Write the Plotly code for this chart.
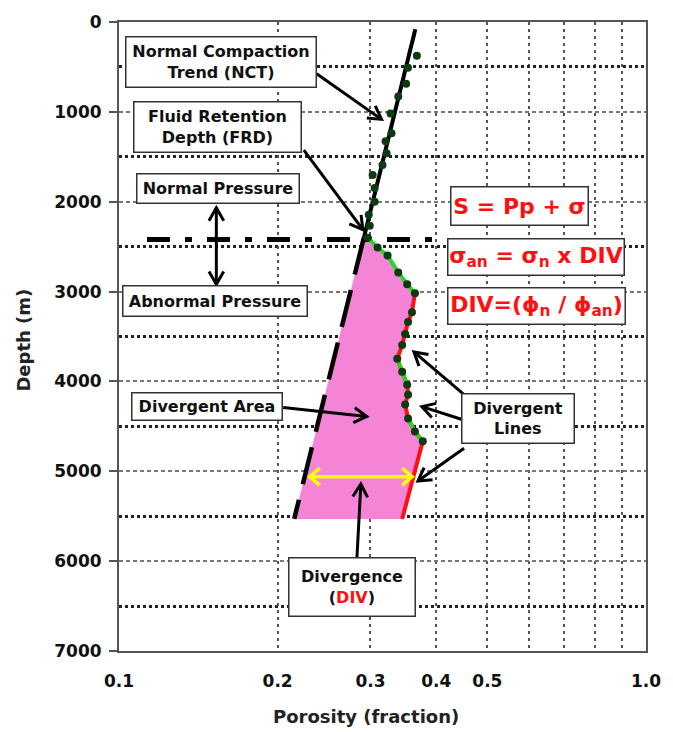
import math
import plotly.graph_objects as go

# ---------------- data ----------------
# observed porosity points (depth m, porosity fraction)
pt_depth = [376, 509, 686, 829, 1017, 1238, 1327, 1460, 1592, 1703, 1847, 2001,
            2145, 2267, 2400, 2510, 2599, 2787, 2919, 3019, 3229, 3340, 3472,
            3594, 3749, 3893, 4036, 4147, 4257, 4412, 4556, 4667]
pt_poro = [0.3675, 0.3535, 0.3506, 0.3388, 0.3275, 0.3289, 0.3205, 0.3219,
           0.3162, 0.3029, 0.3055, 0.3055, 0.2978, 0.2991, 0.2965, 0.3095,
           0.3233, 0.3388, 0.3522, 0.3644, 0.3597, 0.3536, 0.3491, 0.3446,
           0.3373, 0.3446, 0.3522, 0.3536, 0.3491, 0.3536, 0.3644, 0.3771]
# end of divergent (red) line
end_depth = 5530
end_poro = 0.3446
# normal compaction trend
nct_depth = [80, 2400, 5530]
nct_poro = [0.365, 0.2915, 0.215]
# fluid retention depth line
frd_depth = 2420
frd_poro = [0.113, 0.397]
# divergence (yellow) arrow
div_depth = 5060
div_poro = [0.230, 0.360]
# axis ticks
x_tickvals = [0.1, 0.2, 0.3, 0.4, 0.5, 1.0]
x_ticktext = ["0.1", "0.2", "0.3", "0.4", "0.5", "1.0"]
x_minorvals = [0.6, 0.7, 0.8, 0.9]
y_tickvals = [0, 1000, 2000, 3000, 4000, 5000, 6000, 7000]
y_minorvals = [500, 1500, 2500, 3500, 4500, 5500, 6500]

FRD_IDX = pt_depth.index(2400)

# ---------------- layout geometry ----------------
W, H = 673, 732
L, R, T, B = 119, 655, 18, 651


def px(x):
    return (x - L) / (R - L)


def py(y):
    return (B - y) / (B - T)


FONT = "DejaVu Sans, sans-serif"

fig = go.Figure()

# abnormal (divergent) segment arrays
abn_d = pt_depth[FRD_IDX:] + [end_depth]
abn_p = pt_poro[FRD_IDX:] + [end_poro]

# pink divergent area
poly_d = abn_d + [nct_depth[2], nct_depth[1]]
poly_p = abn_p + [nct_poro[2], nct_poro[1]]

fig.add_trace(go.Scatter(
    x=poly_p, y=poly_d, mode="lines", fill="toself", fillcolor="#f583d6",
    line=dict(width=0), hoverinfo="skip", showlegend=False))

# NCT solid and dashed
fig.add_trace(go.Scatter(x=nct_poro[:2], y=nct_depth[:2], mode="lines",
                         line=dict(color="black", width=4), showlegend=False))
fig.add_trace(go.Scatter(x=nct_poro[1:], y=nct_depth[1:], mode="lines",
                         line=dict(color="black", width=4.5, dash="38px,16px"),
                         showlegend=False))

# FRD dash-dot line
fig.add_trace(go.Scatter(x=frd_poro, y=[frd_depth, frd_depth], mode="lines",
                         line=dict(color="black", width=5, dash="23px,15px,7px,15px"),
                         showlegend=False))

# red divergent line (abnormal section after ~3000 m)
red_start = 5
fig.add_trace(go.Scatter(x=abn_p[red_start:], y=abn_d[red_start:], mode="lines",
                         line=dict(color="#ff1010", width=4), showlegend=False))
# green segments
for a, b in [(0, 5), (10, 12), (15, 17)]:
    fig.add_trace(go.Scatter(x=abn_p[a:b + 1], y=abn_d[a:b + 1], mode="lines",
                             line=dict(color="#22d822", width=4), showlegend=False))

# dots
fig.add_trace(go.Scatter(x=pt_poro, y=pt_depth, mode="markers",
                         marker=dict(color="#0e3a12", size=8), showlegend=False))

# yellow double arrow
hf = 1.045
hd = 95
yx = [div_poro[0], div_poro[1], None,
      div_poro[0] * hf, div_poro[0], div_poro[0] * hf, None,
      div_poro[1] / hf, div_poro[1], div_poro[1] / hf]
yy = [div_depth, div_depth, None,
      div_depth - hd, div_depth, div_depth + hd, None,
      div_depth - hd, div_depth, div_depth + hd]
fig.add_trace(go.Scatter(x=yx, y=yy, mode="lines",
                         line=dict(color="#ffff00", width=3.5), showlegend=False))

# ---------------- arrows (annotation pointers) ----------------
shapes = []


def arrow(x0, y0, x1, y1, both=False, head=15, ang=30, w=3, color="black"):
    shapes.append(dict(type="line", xref="paper", yref="paper",
                       x0=px(x0), y0=py(y0), x1=px(x1), y1=py(y1),
                       line=dict(color=color, width=w)))
    ends = [(x0, y0, x1, y1)]
    if both:
        ends.append((x1, y1, x0, y0))
    for sx, sy, tx, ty in ends:
        dx, dy = tx - sx, ty - sy
        n = math.hypot(dx, dy)
        ux, uy = dx / n, dy / n
        pts = []
        for s in (1, -1):
            a = math.radians(ang) * s
            bx = -(ux * math.cos(a) - uy * math.sin(a)) * head
            by = -(ux * math.sin(a) + uy * math.cos(a)) * head
            pts.append((tx + bx, ty + by))
        path = "M {} {} L {} {} L {} {}".format(
            px(pts[0][0]), py(pts[0][1]), px(tx), py(ty), px(pts[1][0]), py(pts[1][1]))
        shapes.append(dict(type="path", xref="paper", yref="paper", path=path,
                           line=dict(color=color, width=w)))


arrow(320, 70, 386, 116)          # NCT
arrow(307, 147, 367, 227)         # FRD
arrow(218, 205, 218, 282, both=True)  # normal / abnormal pressure
arrow(286, 406, 371, 415)         # divergent area
arrow(470, 393, 419, 350)         # divergent lines
arrow(468, 418, 427, 405)
arrow(470, 447, 423, 480)
arrow(361, 557, 365, 483)         # divergence

# ---------------- text boxes ----------------
annotations = []


def box(x0, y0, x1, y1, text, color="#111111", size=16, bw=1.5):
    annotations.append(dict(
        xref="paper", yref="paper", x=px((x0 + x1) / 2), y=py((y0 + y1) / 2),
        xanchor="center", yanchor="middle", showarrow=False, text=text,
        font=dict(family=FONT, size=size, color=color, weight="bold"),
        bgcolor="white", bordercolor="#333333", borderwidth=bw, borderpad=0,
        width=x1 - x0 - 2 * bw, height=y1 - y0 - 2 * bw, align="center"))


box(127, 32, 319, 84, "Normal Compaction<br>Trend (NCT)")
box(135, 98, 304, 150, "Fluid Retention<br>Depth (FRD)")
box(138, 170, 302, 201, "Normal Pressure")
box(124, 283, 310, 315, "Abnormal Pressure")
box(133, 390, 285, 419, "Divergent Area")
box(468, 392, 582, 443, "Divergent<br>Lines")
box(292, 557, 420, 617, "Divergence<br>(<span style='color:#ff1010'>DIV</span>)")
box(457, 183, 596, 223, "S = Pp + σ", color="#ff1010", size=22)
box(454, 235, 632, 273, "σ<sub>an</sub> = σ<sub>n</sub> x DIV", color="#ff1010", size=22)
box(454, 285, 633, 323, "DIV=(ϕ<sub>n</sub> / ϕ<sub>an</sub>)", color="#ff1010", size=22)

# axis titles
annotations.append(dict(xref="paper", yref="paper", x=px(370), y=py(717),
                        xanchor="center", yanchor="middle", showarrow=False,
                        text="Porosity (fraction)",
                        font=dict(family=FONT, size=18, color="#222", weight="bold")))
annotations.append(dict(xref="paper", yref="paper", x=px(22), y=py(338),
                        xanchor="center", yanchor="middle", showarrow=False,
                        text="Depth (m)", textangle=-90,
                        font=dict(family=FONT, size=18, color="#222", weight="bold")))

fig.update_layout(
    width=W, height=H,
    margin=dict(l=L, r=W - R, t=T, b=H - B),
    paper_bgcolor="white", plot_bgcolor="white",
    showlegend=False,
    shapes=shapes, annotations=annotations,
    xaxis=dict(
        type="log", range=[-1, 0], tickvals=x_tickvals, ticktext=x_ticktext,
        showgrid=True, gridcolor="#555555", gridwidth=2, griddash="3px,4px",
        showline=True, linecolor="#555555", linewidth=2, mirror=True,
        ticks="", ticklabelstandoff=14, zeroline=False,
        tickfont=dict(family=FONT, size=17, color="#111", weight="bold"),
        minor=dict(tickvals=x_minorvals, showgrid=True, gridcolor="#555555",
                   gridwidth=2, griddash="3px,4px", ticks=""),
    ),
    yaxis=dict(
        range=[7000, 0], tickvals=y_tickvals,
        showgrid=True, gridcolor="#777777", gridwidth=1.5, griddash="4px,3px",
        showline=True, linecolor="#555555", linewidth=2, mirror=True,
        ticks="outside", ticklen=8, tickcolor="#555555", tickwidth=1.5,
        ticklabelstandoff=4, zeroline=False,
        tickfont=dict(family=FONT, size=17, color="#111", weight="bold"),
        minor=dict(tickvals=y_minorvals,
                   showgrid=True, gridcolor="#222222", gridwidth=2.5,
                   griddash="3px,3px", ticks=""),
    ),
)

fig.write_html("out.html")
